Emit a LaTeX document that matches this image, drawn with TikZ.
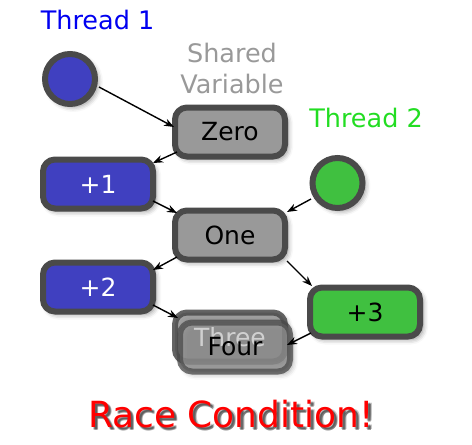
\documentclass[tikz,border=0pt]{standalone}
\usepackage{fontspec}
\setmainfont{DejaVu Sans}
\usetikzlibrary{arrows.meta,shadows.blur,calc}
\definecolor{bordergray}{HTML}{4A4A4A}
\definecolor{boxgray}{HTML}{999999}
\definecolor{tblue}{HTML}{4040C0}
\definecolor{tgreen}{HTML}{40C040}
\definecolor{lblue}{HTML}{0000F0}
\definecolor{lgreen}{HTML}{22DD22}
\definecolor{racered}{HTML}{FF0000}
\begin{document}
\begin{tikzpicture}[x=1pt,y=-1pt,
  shad/.style={blur shadow={shadow xshift=3pt, shadow yshift=-3pt, shadow blur radius=5pt, shadow opacity=45}},
  box/.style={draw=bordergray, line width=6pt, rounded corners=12pt,
    minimum width=110pt, minimum height=49pt, inner sep=0pt,
    font=\fontsize{25}{29}\selectfont, shad},
  graybox/.style={box, fill=boxgray, text=black},
  bluebox/.style={box, fill=tblue, text=white},
  greenbox/.style={box, fill=tgreen, text=black},
  dot/.style={circle, draw=bordergray, line width=6pt, minimum size=50pt, inner sep=0pt, shad},
  lbl/.style={font=\fontsize{25.5}{29}\selectfont, anchor=base},
  arr/.style={-{Stealth[length=10pt,width=7.5pt]}, line width=1.4pt, black},
]
\useasboundingbox (0,0) rectangle (472,445);

% labels
\node[lbl, text=lblue] (lt1) at (97.5,29) {Thread 1};
\node[lbl, text=lgreen] (lt2) at (366,127) {Thread 2};
\node[lbl, text=boxgray] (lsh1) at (232,62) {Shared};
\node[lbl, text=boxgray] (lsh2) at (232,93) {Variable};

% threads
\node[dot, fill=tblue] (t1) at (70,79) {};
\node[dot, fill=tgreen] (t2) at (337.5,183) {};

% boxes
\node[graybox] (zero) at (230,132) {Zero};
\node[graybox] (one) at (230,235) {One};
\node[bluebox] (p1) at (98,184) {+1};
\node[bluebox] (p2) at (98,287) {+2};
\node[greenbox] (p3) at (365,312) {+3};

% overlapping Three / Four
\node[graybox, opacity=0.85, text opacity=0] (three) at (230,337) {Three};
\node[graybox, opacity=0.75, text opacity=0] (four) at (235,347) {Four};
\node[font=\fontsize{25}{29}\selectfont, text=white, opacity=0.6] (threetxt) at (three) {Three};
\node[font=\fontsize{25}{29}\selectfont, text=black] (fourtxt) at (four) {Four};

% arrows
\draw[arr] ($(t1)+(29,8)$) -- ($(zero)+(-56,-5)$);
\draw[arr] ($(zero)+(-53,20)$) -- ($(p1)+(55,-21)$);
\draw[arr] ($(p1)+(55,17)$) -- ($(one)+(-53,-22)$);
\draw[arr] ($(t2)+(-26.5,16)$) -- ($(one)+(57,-23)$);
\draw[arr] ($(one)+(-53,22)$) -- ($(p2)+(55,-17)$);
\draw[arr] ($(one)+(57,26)$) -- ($(p3)+(-53,-26)$);
\draw[arr] ($(p2)+(55,18)$) -- ($(three)+(-52,-19)$);
\draw[arr] ($(p3)+(-54,21)$) -- ($(four)+(52,-2)$);

% race condition title with soft shadow
\foreach \dx/\dy in {2/2,3/3,2.5/3.5,3.5/2.5}{
  \node[lbl, font=\fontsize{36}{40}\selectfont, text=black, opacity=0.22] at (231+\dx,427+\dy) {Race Condition!};
}
\node[lbl, font=\fontsize{36}{40}\selectfont, text=racered] (race) at (231,427) {Race Condition!};
\end{tikzpicture}
\end{document}
